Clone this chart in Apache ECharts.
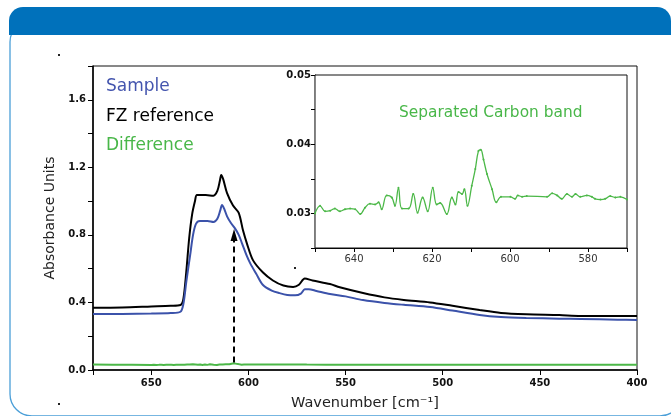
<!DOCTYPE html>
<html>
<head>
<meta charset="utf-8">
<script src="https://cdn.jsdelivr.net/npm/echarts@6/dist/echarts.min.js"></script>
<style>
html,body{margin:0;padding:0;background:#fff;}
#chart{width:671px;height:416px;}
</style>
</head>
<body>
<div id="chart"></div>
<script>
// wavenumber [cm-1], absorbance
var sampleData = [
	[680,0.331],[665,0.332],[650,0.334],[640,0.337],[635,0.345],[633.5,0.39],[632,0.52],[630,0.68],
	[628.5,0.80],[627,0.865],[625,0.882],[621,0.882],[618,0.876],[616,0.895],[614.5,0.945],[613.6,0.977],
	[612.5,0.955],[611,0.91],[609,0.87],[607,0.84],[605,0.80],[603.3,0.75],[601,0.68],[599,0.63],
	[596,0.57],[592.5,0.503],[588,0.47],[584,0.455],[580,0.444],[576,0.442],[573,0.452],[571,0.478],
	[569,0.478],[565,0.468],[558,0.45],[550,0.436],[541,0.414],[530,0.397],[520,0.386],[506.5,0.373],
	[495,0.352],[481,0.326],[470,0.314],[457,0.308],[440,0.304],[429,0.302],[410,0.298],[400,0.296]
];
var referenceData = [
	[680,0.368],[665,0.370],[650,0.376],[640,0.380],[635,0.385],[633.5,0.42],[632,0.58],[630.5,0.78],
	[629,0.92],[627.5,1.00],[626.5,1.036],[622,1.036],[618,1.032],[616,1.06],[614.7,1.12],[614,1.155],
	[613,1.13],[611,1.047],[608,0.975],[605,0.93],[602.8,0.827],[600.8,0.75],[597.6,0.649],[592.5,0.577],
	[587.4,0.53],[582,0.50],[577,0.492],[574,0.505],[571,0.542],[567,0.530],[558,0.509],[553,0.49],
	[541,0.456],[530,0.43],[520,0.415],[506.5,0.40],[495,0.38],[481,0.355],[470,0.338],[457,0.33],
	[440,0.325],[429,0.32],[410,0.32],[400,0.32]
];
// separated carbon band (inset)
var carbonData = [
	[650,0.0300],[648.7,0.0311],[647.4,0.0303],[646.1,0.0304],[644.9,0.0307],[643.6,0.0303],[642.3,0.0306],
	[641.0,0.0307],[639.7,0.0306],[638.4,0.0299],[637.2,0.0308],[635.9,0.0314],[634.6,0.0313],[633.7,0.0316],
	[632.9,0.0306],[631.6,0.0326],[630.3,0.0323],[629.5,0.0311],[628.6,0.0337],[627.7,0.0307],[626.0,0.0307],
	[624.8,0.0328],[623.7,0.0301],[622.4,0.0323],[621.1,0.0303],[619.8,0.0337],[618.8,0.0313],[617.9,0.0315],
	[616.2,0.0299],[614.9,0.0323],[614.0,0.0313],[613.2,0.0331],[612.3,0.0328],[611.7,0.0335],[610.9,0.0311],
	[609.8,0.0340],[608.9,0.0364],[608.1,0.0390],[607.5,0.0392],[606.8,0.0378],[605.9,0.0357],[604.6,0.0335],
	[603.5,0.0316],[602.3,0.0324],[599.9,0.0324],[598.7,0.0321],[598.0,0.0326],[596.9,0.0324],[595.7,0.0325],
	[590.5,0.0324],[589.2,0.0329],[587.9,0.0326],[586.7,0.0321],[585.4,0.0328],[584.1,0.0324],[583.2,0.0328],
	[582.0,0.0324],[580.3,0.0326],[579.0,0.0324],[578.2,0.0321],[576.8,0.0320],[575.6,0.0321],[574.3,0.0325],
	[573.0,0.0323],[571.7,0.0324],[570,0.0320]
];
var diffLeft = [[680,0.032],[670,0.031],[660,0.031]];
var diffRight = [[560,0.031],[520,0.031],[480,0.031],[440,0.031],[400,0.031]];
var arrowLine = [[607.4,0.045],[607.4,0.80]];

var legendNames = ['Sample','FZ reference','Difference'];
var insetTitle = 'Separated Carbon band';

var BLUE = '#3b52aa', GREEN = '#4cb848';
var diffData = diffLeft.concat(carbonData, diffRight);

var chart = echarts.init(document.getElementById('chart'));
var boldLab = {fontFamily:'DejaVu Sans', fontSize:10, fontWeight:'bold', color:'#111'};

var option = {
	animation:false,
	grid:[
		{left:93, right:34, top:66, bottom:46, outerBoundsMode:'none', containLabel:false,
			show:true, borderColor:'#111', borderWidth:1},
		{left:315, right:44, top:75, bottom:168, outerBoundsMode:'none', containLabel:false,
			show:true, borderColor:'#111', borderWidth:1, backgroundColor:'#fff', z:3}
	],
	xAxis:[{
		gridIndex:0, type:'value', inverse:true, min:400, max:680, interval:50,
		name:'Wavenumber [cm⁻¹]', nameLocation:'middle', nameGap:26,
		nameTextStyle:{fontFamily:'DejaVu Sans', fontSize:14.5, color:'#222'},
		axisLine:{lineStyle:{color:'#000', width:1.5}},
		axisTick:{length:5, lineStyle:{color:'#000'}},
		splitLine:{show:false},
		axisLabel:Object.assign({margin:8, formatter:function(v){ return v % 50 === 0 ? String(v) : ''; }}, boldLab)
	},{
		gridIndex:1, type:'value', inverse:true, min:570, max:650, interval:10,
		axisLine:{lineStyle:{color:'#000', width:1.2}},
		axisTick:{length:4, lineStyle:{color:'#000'}},
		splitLine:{show:false},
		axisLabel:{fontFamily:'DejaVu Sans', fontSize:10, color:'#333', margin:6,
			formatter:function(v){ return (v % 20 === 0) ? String(v) : ''; }}
	}],
	yAxis:[{
		gridIndex:0, type:'value', min:0, max:1.8, interval:0.2,
		name:'Absorbance Units', nameLocation:'middle', nameGap:29,
		nameTextStyle:{fontFamily:'DejaVu Sans', fontSize:14, color:'#222'},
		axisLine:{show:true, lineStyle:{color:'#000', width:1.5}},
		axisTick:{show:true, length:5, lineStyle:{color:'#000'}},
		splitLine:{show:false},
		axisLabel:Object.assign({margin:7, formatter:function(v){
			var k = Math.round(v * 10);
			return k % 4 === 0 ? (k / 10).toFixed(1) : '';
		}}, boldLab)
	},{
		gridIndex:1, type:'value', min:0.025, max:0.05, interval:0.005,
		axisLine:{show:true, lineStyle:{color:'#000', width:1.2}},
		axisTick:{show:true, length:4, lineStyle:{color:'#000'}},
		splitLine:{show:false},
		axisLabel:Object.assign({margin:4, formatter:function(v){
			var k = Math.round(v * 1000);
			return k % 10 === 0 ? (k / 1000).toFixed(2) : '';
		}}, boldLab)
	}],
	series:[
		{name:'FZ reference', type:'line', xAxisIndex:0, yAxisIndex:0, data:referenceData,
			showSymbol:false, smooth:0.3, lineStyle:{color:'#000', width:2}, z:3},
		{name:'Sample', type:'line', xAxisIndex:0, yAxisIndex:0, data:sampleData,
			showSymbol:false, smooth:0.3, lineStyle:{color:BLUE, width:2}, z:3},
		{name:'Difference', type:'line', xAxisIndex:0, yAxisIndex:0, data:diffData,
			showSymbol:false, lineStyle:{color:GREEN, width:2}, z:3},
		{name:'arrow', type:'line', xAxisIndex:0, yAxisIndex:0, data:[], silent:true,
			markLine:{symbol:['none','triangle'], symbolSize:[7,12], silent:true, label:{show:false},
				lineStyle:{color:'#000', type:[6,4], width:2},
				data:[[{coord:arrowLine[0]},{coord:arrowLine[1]}]]}},
		{name:'Carbon', type:'line', xAxisIndex:1, yAxisIndex:1, data:carbonData,
			showSymbol:true, symbol:'circle', symbolSize:2, smooth:0.4, itemStyle:{color:GREEN},
			lineStyle:{color:GREEN, width:1.3}, z:5}
	],
	graphic:[
		{type:'rect', shape:{x:10, y:20, width:672, height:396, r:22}, z:-10,
			style:{fill:'none', stroke:'#4b9fd8', lineWidth:1.3}},
		{type:'rect', shape:{x:9, y:7, width:662, height:28, r:[14,14,0,0]}, z:-5,
			style:{fill:'#0071bb'}},
		{type:'text', x:106, y:87, style:{text:legendNames[0], font:'17px "DejaVu Sans"', fill:'#4455ae', verticalAlign:'middle'}},
		{type:'text', x:106, y:117, style:{text:legendNames[1], font:'17px "DejaVu Sans"', fill:'#000', verticalAlign:'middle'}},
		{type:'text', x:106, y:146, style:{text:legendNames[2], font:'17px "DejaVu Sans"', fill:'#49b749', verticalAlign:'middle'}},
		{type:'text', x:399, y:113, z:10, style:{text:insetTitle, font:'15.4px "DejaVu Sans"', fill:'#49b749', verticalAlign:'middle'}},
		{type:'rect', shape:{x:58, y:54, width:2, height:2}, style:{fill:'#222'}},
		{type:'rect', shape:{x:58, y:403, width:2, height:2}, style:{fill:'#222'}},
		{type:'rect', shape:{x:294, y:267, width:2, height:2}, style:{fill:'#222'}}
	]
};
chart.setOption(option);
</script>
</body>
</html>
